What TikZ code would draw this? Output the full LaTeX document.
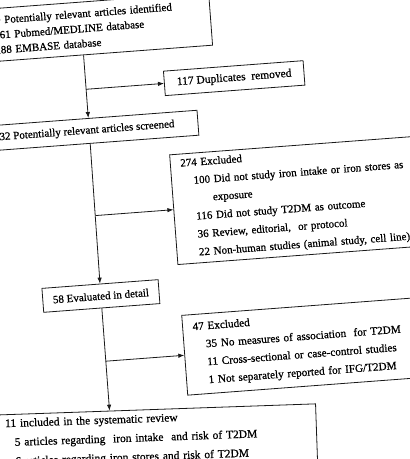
\documentclass[tikz,border=0pt]{standalone}
\usepackage{fontspec}
\setmainfont[FakeBold=0.7]{Liberation Serif}
\usetikzlibrary{arrows.meta}
\tikzset{
  caja/.style={draw=borde, line width=0.8pt, align=left, anchor=north west,
    inner xsep=10pt, font=\fontsize{11.2}{18}\selectfont},
  centrada/.style={caja, align=center, anchor=center, inner sep=0pt,
    font=\fontsize{11}{15}\selectfont},
  flecha/.style={->, draw=borde, line width=0.8pt}
}
\begin{document}
\begin{tikzpicture}[x=1pt,y=-1pt,>={Latex[length=6pt,width=4.5pt]}]
  %colores
  \colorlet{borde}{black!90}

  % marco de la foto
  \useasboundingbox (-205,-230) rectangle (205,229);
  \clip (-205,-230) rectangle (205,229);

  \begin{scope}[rotate=4.3,transform shape]
    \coordinate (eje) at (-108,0);

    % Cajas principales
    \node[caja, font=\fontsize{11}{15}\selectfont, text width=216pt, inner ysep=7.5pt] (ident) at (-215,-237)
      {449 Potentially relevant articles identified\\
       \hspace*{9pt}261 Pubmed/MEDLINE database\\
       \hspace*{9pt}188 EMBASE database};
    \node[centrada, minimum width=228pt, minimum height=25pt] (cribado) at (-113,-107.5)
      {332 Potentially relevant articles screened};
    \node[centrada, minimum width=116.5pt, minimum height=24pt] (eval) at (-108.75,58)
      {58 Evaluated in detail};

    % Cajas laterales
    \node[centrada, minimum width=140pt, minimum height=24.5pt, font=\fontsize{11.5}{15}\selectfont] (dup) at (40.5,-149.25)
      {117 Duplicates\ \ removed};
    \node[caja, text width=260pt, minimum height=110pt, font=\fontsize{11}{18}\selectfont] (excl1) at (-30,-78)
      {274 Excluded\\
       \hspace*{12pt}100 Did not study iron intake or iron stores as\\
       \hspace*{30pt}exposure\\
       \hspace*{12pt}116 Did not study T2DM as outcome\\
       \hspace*{12pt}36 Review, editorial,\ \ or protocol\\
       \hspace*{12pt}22 Non-human studies (animal study, cell line)};
    \node[caja, text width=260pt, minimum height=80pt] (excl2) at (-30,83)
      {47 Excluded\\
       \hspace*{12pt}35 No measures of association\ \ for T2DM\\
       \hspace*{12pt}11 Cross-sectional or case-control studies\\
       \hspace*{12pt}1 Not separately reported for IFG/T2DM};

    % Flechas
    \draw[flecha] (ident.south -| eje) -- (cribado.north -| eje);
    \draw[flecha] (dup.west -| eje) -- (dup.west);
    \draw[flecha] (cribado.south -| eje) -- (eval.north);
    \draw[flecha] (excl1.west -| eje) -- (excl1.west);
    \draw[flecha] (excl2.west -| eval.south) -- (excl2.west);

    % Caja final, algo menos girada
    \coordinate (llegada) at (-108.75,173);
    \begin{scope}[rotate around={-2.3:(llegada)}]
      \node[caja, font=\fontsize{11.5}{19}\selectfont, text width=300pt, inner xsep=11pt, inner ysep=4.5pt] (incl) at (-225,173)
        {11 included in the systematic review\\
         \hspace*{9pt}5 articles regarding\ \ iron intake\ \ and risk of T2DM\\
         \hspace*{9pt}6 articles regarding iron stores and risk of T2DM\rule[-30pt]{0pt}{0pt}};
    \end{scope}
    \draw[flecha] (eval.south) -- (llegada);
  \end{scope}
\end{tikzpicture}
\end{document}
